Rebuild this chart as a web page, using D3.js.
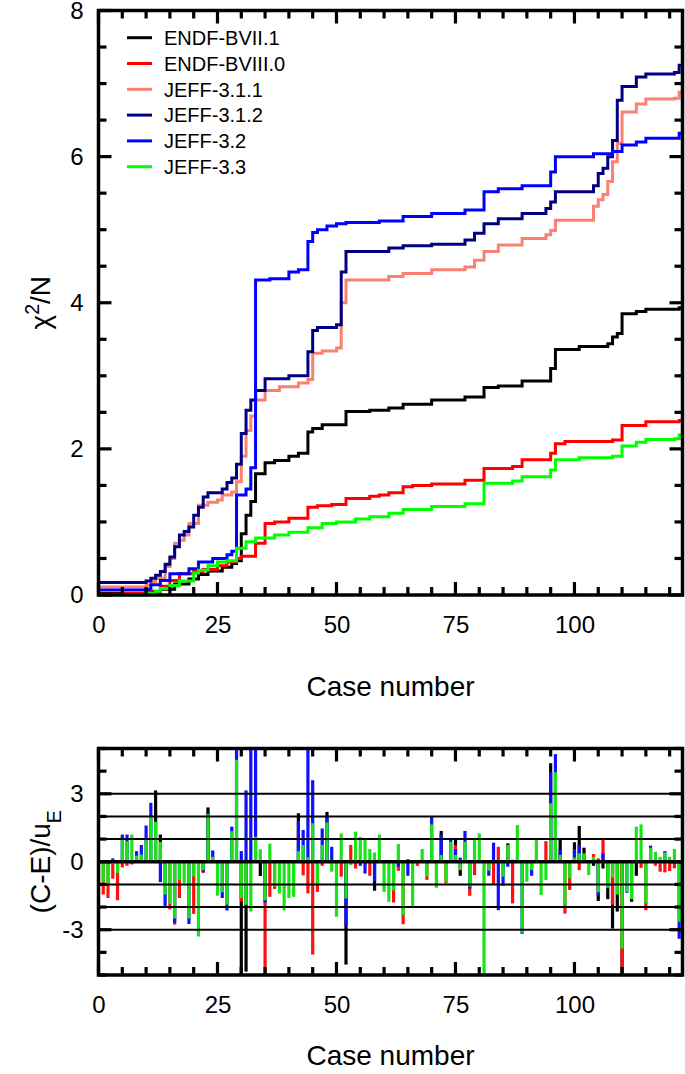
<!DOCTYPE html>
<html>
<head>
<meta charset="utf-8">
<script src="https://cdn.jsdelivr.net/npm/d3@7"></script>
<style>
  body { margin: 0; background: #fff; }
  svg text { font-family: "Liberation Sans", Arial, Helvetica, sans-serif; fill: #000; }
</style>
</head>
<body>
<svg id="chart" width="685" height="1074"></svg>
<script>
// ############################################################################
// Chi-square / deviation chart for six nuclear data libraries
// - top: cumulative chi^2/N as step curves
// - bottom: (C-E)/u_E per case, overlapping bars
// ############################################################################

// ============================================================================
// Data
// ============================================================================

const libraries = ['ENDF-BVII.1', 'ENDF-BVIII.0', 'JEFF-3.1.1', 'JEFF-3.1.2', 'JEFF-3.2', 'JEFF-3.3']

// Cumulative chi^2/N, knots [case number, value] (value holds until next knot)
const chiEndf71 = [[0,0.02],[10,0.04],[13,0.08],[16,0.15],[19,0.22],[21,0.28],[23,0.33],[26,0.38],[28,0.43],[29,0.47],
  [30,0.84],[31,1.09],[32,1.28],[33,1.66],[35,1.81],[37,1.84],[40,1.9],[42,1.94],[44,2.23],[45,2.28],[47,2.33],
  [52,2.51],[57,2.53],[61,2.56],[64,2.61],[70,2.67],[77,2.71],[81,2.84],[84,2.86],[89,2.93],[95,3.10],[96,3.36],
  [101,3.40],[107,3.44],[108,3.53],[109,3.58],[110,3.85],[113,3.88],[115,3.91],[122,3.93]]
const chiEndf80 = [[0,0.01],[5,0.02],[10,0.05],[13,0.12],[15,0.2],[17,0.29],[20,0.32],[22,0.35],[25,0.4],[27,0.45],
  [29,0.5],[30,0.53],[33,0.71],[35,0.98],[37,1.0],[40,1.05],[44,1.2],[46,1.22],[49,1.24],[52,1.32],[57,1.35],
  [59,1.37],[61,1.4],[64,1.48],[66,1.5],[70,1.52],[77,1.57],[81,1.73],[87,1.76],[89,1.85],[95,1.94],[96,2.07],
  [98,2.1],[108,2.12],[110,2.32],[115,2.37],[122,2.39]]
const chiJeff311 = [[0,0.11],[10,0.13],[11,0.18],[12,0.23],[14,0.39],[15,0.5],[16,0.71],[17,0.75],[18,0.82],[19,0.98],
  [21,1.23],[23,1.27],[25,1.3],[26,1.37],[28,1.41],[29,1.55],[30,1.9],[31,2.25],[32,2.45],[33,2.67],[35,2.8],
  [38,2.85],[42,2.9],[44,2.95],[45,3.31],[47,3.34],[50,3.38],[51,4.0],[52,4.31],[61,4.36],[64,4.4],[70,4.45],
  [77,4.49],[79,4.58],[81,4.7],[84,4.79],[89,4.88],[94,4.93],[95,4.99],[96,5.13],[104,5.32],[105,5.41],[106,5.48],
  [107,5.66],[108,5.93],[109,6.18],[110,6.61],[113,6.72],[115,6.79],[121,6.8],[122,6.88]]
const chiJeff312 = [[0,0.17],[10,0.19],[11,0.23],[12,0.27],[13,0.32],[14,0.42],[15,0.52],[16,0.66],[17,0.82],[18,0.87],
  [19,0.93],[20,1.09],[21,1.2],[22,1.34],[23,1.40],[26,1.45],[27,1.54],[28,1.60],[29,1.79],[30,2.21],[31,2.53],
  [32,2.67],[33,2.8],[35,2.96],[40,3.0],[44,3.33],[45,3.62],[46,3.66],[50,3.70],[51,4.42],[52,4.70],[61,4.75],
  [64,4.78],[70,4.8],[77,4.86],[79,4.95],[81,5.08],[84,5.15],[89,5.22],[94,5.29],[95,5.38],[96,5.52],[104,5.6],
  [105,5.77],[106,5.84],[107,6.0],[108,6.22],[109,6.77],[110,6.96],[113,7.09],[115,7.13],[121,7.15],[122,7.25]]
const chiJeff32 = [[0,0.07],[10,0.08],[11,0.14],[13,0.2],[15,0.29],[19,0.36],[21,0.45],[24,0.5],[27,0.55],[28,0.6],
  [29,1.37],[31,1.45],[32,1.74],[33,4.31],[36,4.33],[40,4.42],[42,4.45],[44,4.84],[45,4.96],[46,5.0],[48,5.05],
  [50,5.08],[52,5.1],[59,5.12],[64,5.18],[70,5.22],[77,5.27],[81,5.52],[84,5.56],[89,5.6],[95,5.79],[96,6.0],
  [104,6.04],[108,6.07],[110,6.16],[113,6.2],[115,6.25],[122,6.32]]
const chiJeff33 = [[0,0.0],[10,0.02],[12,0.05],[13,0.09],[15,0.13],[17,0.19],[20,0.3],[21,0.34],[23,0.4],[25,0.45],
  [27,0.47],[29,0.64],[31,0.73],[33,0.78],[37,0.82],[40,0.86],[44,0.92],[47,0.98],[50,1.0],[54,1.04],[57,1.07],
  [61,1.12],[64,1.17],[70,1.21],[77,1.25],[81,1.53],[87,1.56],[89,1.62],[95,1.71],[96,1.85],[101,1.88],[108,1.9],
  [110,2.04],[113,2.09],[115,2.13],[121,2.14],[122,2.19]]

// (C-E)/u_E per case 1..122 (0 = hidden behind a later bar)
const cases = d3.range(1, 123)
const devEndf71 = [
  0,0,0,0,0,0,0,0,0,0,  0,3.15,1.2,0,0,0,0,0,0,0,  0,0,2.4,0,0,0,0,0,0,-6,
  -4.85,0,0,-0.63,0,0,0,0,0,0,  0,2.14,0,0,0,0,0,2.2,0,0,  0,-4.54,0,0,0,0,0,-1.28,0,0,
  0,0,0,0,0,0,0,0,0,0,  0,1.36,0,0,1.03,-0.62,0,0,0,0,  0,0,0,0,0,0.81,0,0,0,0,
  0,0,0,0,4.35,0,0.96,0,0,0.86,  1.58,0.62,0,-0.18,-1.73,-0.3,-1.65,-2.95,-2.2,-6,
  0,-1.77,-0.62,0,0,0,0,0,0,0,  0,0]
const devEndf80 = [
  -1.45,-1.6,-0.75,-1.7,-0.25,-0.18,-0.12,0,0,0,  0,0,0,0,-2.1,-2.78,-1.6,0,0,-2.3,
  0,-0.5,0,0,0,0,0,0,0,-1.75,  0,0,0,0,-5.5,-1.55,-1.2,0,0,0,
  0,0,-0.6,-1.4,-4.1,-1.33,-0.18,0,0,0,  -0.66,0,0.74,-0.3,0,0,-0.62,0,0,0,
  0,-1.8,-0.4,-2.76,0.12,0,-0.18,0,-0.8,0,  0,0,-0.95,0,0.74,0,0,-1.5,-0.59,0,
  0,0,-1.0,0.66,0,0,-1.84,0,0,0,  0,0,0,0.91,0,0,0,-2.29,-1.25,0,
  -0.37,0,0,0.34,0.15,1.03,0,-1.9,0,-4.7,  0,0,0,-0.27,-2.14,0,-0.18,-0.44,-0.47,-0.41,
  -0.29,0]
const devJeff32 = [
  0,0,0.15,0,1.2,1.2,0,0.47,0.74,1.6,  2.6,0,-0.9,-2.0,0,-2.7,0,0,-2.75,0,
  0,-0.45,2.15,0.5,0,-1.6,-2.15,1.55,6,0.47,  3.15,6,6,0,-1.8,0,0,0,0,0,
  0,1.8,1.4,6,3.6,0,1.47,2.0,0.66,0,  0,-2.8,0,0,-0.18,-0.52,0,-0.86,0,0,
  0,0,-0.22,0,-0.62,0,0,0,0,2.0,  0,1.2,0,1.03,0.56,0.18,1.36,-1.18,0,0,
  0,-0.62,0.84,-2.14,-1.06,-0.22,0,0,-3.18,0,  -0.62,0,0,0,3.95,4.75,0.52,0,0,0.56,
  0.74,0,0,0,-1.5,0.37,0,0,0,0,  -1.37,0,0,0,0,0.71,0,0,0.47,0,
  0,-3.4]
const devJeff33 = [
  -0.9,-1.0,-0.1,-0.5,1.0,0.9,1.2,0.27,0.32,0.95,  2.0,1.77,0.88,-1.45,-1.85,-2.5,-0.8,-0.95,-2.5,-0.65,
  -3.3,-0.37,2.1,0.22,-1.5,-1.35,-1.9,1.35,4.5,-1.6,  -1.9,-2.2,1.1,0.55,-1.7,0.8,-1.1,-1.4,-2.15,-1.6,
  -1.55,0.47,0.74,0.2,1.7,-1.0,0.74,1.74,-0.44,-2.43,  1.25,-1.62,-0.15,1.33,1.1,0.96,0.56,0.41,1.2,-1.33,
  -1.77,-1.27,0.78,-2.36,0,-1.96,0,0.56,-0.66,1.65,  -1.15,0.3,-0.9,0.88,0.3,-0.37,0.88,-1.1,1.03,1.25,
  -6,-0.4,0,0,-0.66,0.74,0.1,1.62,-3.13,-0.88,  -0.37,0.96,-1.47,-0.81,2.58,3.95,0.3,-1.92,-0.74,0.18,
  0.37,0.37,-0.59,0.22,-1.35,0,-1.15,-0.7,-1.45,-3.83,  -1.33,-1.65,1.55,1.65,-1.84,0.62,0.44,0.22,0.41,0.22,
  0.56,-2.65]

// Ticks
const caseTicks = [0, 25, 50, 75, 100]
const caseMinor = d3.range(0, 125, 5)
const chiTicks = [0, 2, 4, 6, 8]
const chiMinor = d3.range(0, 8.01, 0.5)
const devTicks = [-3, 0, 3]
const devMinor = d3.range(-5, 5.01, 1)
const devGridLevels = [-3, -2, -1, 1, 2, 3]

// ============================================================================
// Styles
// ============================================================================

const lineColors = ['#000000', '#ff0000', '#fa8072', '#000080', '#0000ff', '#00ff00']
const barColors  = ['#000000', '#ff1010', '#1010ff', '#18e418']   // draw order
const fontTick = 24, fontTitle = 28, fontLegend = 20

const svg = d3.select('#chart')

// Plot areas
const topArea = { left: 98.5, right: 682.5, top: 10.5, bottom: 595 }
const botArea = { left: 98.5, right: 682.5, top: 748.5, bottom: 975 }

const xMax = 122.7
const xTop = d3.scaleLinear().domain([0, xMax]).range([topArea.left, topArea.right])
const xBot = d3.scaleLinear().domain([0, xMax]).range([botArea.left, botArea.right])
const yChi = d3.scaleLinear().domain([0, 8]).range([topArea.bottom, topArea.top])
const yDev = d3.scaleLinear().domain([-5, 5]).range([botArea.bottom, botArea.top])

// ============================================================================
// Frame, labels (d3 axes) and inward ticks on all four sides
// ============================================================================

function drawFrame(area, x, y, xMajor, xMinor, yMajor, yMinor)
{
  const g = svg.append('g')

  // Labels from the axes (tick lines drawn separately below)
  g.append('g').attr('transform', `translate(0,${area.bottom})`)
    .call(d3.axisBottom(x).tickValues(xMajor).tickSize(0).tickPadding(21).tickFormat(d => String(d)))
    .call(s => s.select('.domain').remove())
    .call(s => s.selectAll('text').style('font-size', fontTick + 'px'))
  g.append('g').attr('transform', `translate(${area.left},0)`)
    .call(d3.axisLeft(y).tickValues(yMajor).tickSize(0).tickPadding(15).tickFormat(d => String(d)))
    .call(s => s.select('.domain').remove())
    .call(s => s.selectAll('text').style('font-size', fontTick + 'px'))

  const tickGroup = svg.append('g').attr('stroke', '#000').attr('stroke-width', 3.2)

  const xTicks = xMinor.map(v => [v, xMajor.includes(v) ? 13 : 8])
  const yTicks = yMinor.map(v => [v, yMajor.includes(v) ? 13 : 8])

  tickGroup.selectAll('.tb').data(xTicks).join('line').attr('class', 'tb')
    .attr('x1', d => x(d[0])).attr('x2', d => x(d[0]))
    .attr('y1', area.bottom).attr('y2', d => area.bottom - d[1])
  tickGroup.selectAll('.tt').data(xTicks).join('line').attr('class', 'tt')
    .attr('x1', d => x(d[0])).attr('x2', d => x(d[0]))
    .attr('y1', area.top).attr('y2', d => area.top + d[1])
  tickGroup.selectAll('.tl').data(yTicks).join('line').attr('class', 'tl')
    .attr('y1', d => y(d[0])).attr('y2', d => y(d[0]))
    .attr('x1', area.left).attr('x2', d => area.left + d[1])
  tickGroup.selectAll('.tr').data(yTicks).join('line').attr('class', 'tr')
    .attr('y1', d => y(d[0])).attr('y2', d => y(d[0]))
    .attr('x1', area.right).attr('x2', d => area.right - d[1])

  svg.append('rect')
    .attr('x', area.left).attr('y', area.top)
    .attr('width', area.right - area.left)
    .attr('height', area.bottom - area.top)
    .attr('fill', 'none').attr('stroke', '#000').attr('stroke-width', 3.5)
}

// ============================================================================
// Top chart: cumulative chi^2/N
// ============================================================================

const chiSeries = [chiEndf71, chiEndf80, chiJeff311, chiJeff312, chiJeff32, chiJeff33]

const stepLine = d3.line()
  .x(d => xTop(d[0]))
  .y(d => yChi(d[1]))
  .curve(d3.curveStepAfter)

chiSeries.forEach((knots, i) =>
{
  // hold last value up to the right edge of the frame
  const pts = knots.concat([[xMax, knots[knots.length - 1][1]]])
  svg.append('path')
    .attr('d', stepLine(pts))
    .attr('fill', 'none')
    .attr('stroke', lineColors[i])
    .attr('stroke-width', 3)
    .attr('stroke-linejoin', 'miter')
})

drawFrame(topArea, xTop, yChi, caseTicks, caseMinor, chiTicks, chiMinor)

// Legend
const legend = svg.append('g')
libraries.forEach((name, i) =>
{
  const ly = 37.7 + i * 25.8
  legend.append('line')
    .attr('x1', 127).attr('x2', 152).attr('y1', ly).attr('y2', ly)
    .attr('stroke', lineColors[i]).attr('stroke-width', 3)
  legend.append('text')
    .attr('x', 164).attr('y', ly).attr('dy', '0.36em')
    .style('font-size', fontLegend + 'px')
    .text(name)
})

// Axis titles
svg.append('text')
  .attr('x', (topArea.left + topArea.right) / 2).attr('y', 686).attr('dy', '0.36em')
  .attr('text-anchor', 'middle')
  .style('font-size', fontTitle + 'px')
  .text('Case number')

const chiTitle = svg.append('text')
  .attr('transform', `translate(40,${(topArea.top + topArea.bottom) / 2}) rotate(-90)`)
  .attr('text-anchor', 'middle').attr('dy', '0.36em')
  .style('font-size', fontTitle + 'px')
chiTitle.append('tspan').text('χ')
chiTitle.append('tspan').attr('baseline-shift', 'super').style('font-size', '70%').text('2')
chiTitle.append('tspan').text('/N')

// ============================================================================
// Bottom chart: (C-E)/u_E bars
// ============================================================================

svg.append('defs').append('clipPath').attr('id', 'clip-dev')
  .append('rect')
  .attr('x', botArea.left).attr('y', botArea.top)
  .attr('width', botArea.right - botArea.left).attr('height', botArea.bottom - botArea.top)

const barW = 3.2
const devSeries = [devEndf71, devEndf80, devJeff32, devJeff33]
const bars = svg.append('g').attr('clip-path', 'url(#clip-dev)')

devSeries.forEach((vals, i) =>
{
  bars.append('g')
    .selectAll('rect')
    .data(cases.map((c, j) => [c, vals[j]]).filter(d => d[1] != 0))
    .join('rect')
    .attr('x', d => xBot(d[0]) - barW / 2)
    .attr('y', d => Math.min(yDev(d[1]), yDev(0)))
    .attr('width', barW)
    .attr('height', d => Math.abs(yDev(d[1]) - yDev(0)))
    .attr('fill', barColors[i])
})

// Reference lines
svg.append('g')
  .selectAll('line')
  .data(devGridLevels)
  .join('line')
  .attr('x1', botArea.left).attr('x2', botArea.right)
  .attr('y1', d => yDev(d)).attr('y2', d => yDev(d))
  .attr('stroke', '#000').attr('stroke-width', 2)

svg.append('line')
  .attr('x1', botArea.left).attr('x2', botArea.right)
  .attr('y1', yDev(0)).attr('y2', yDev(0))
  .attr('stroke', '#000').attr('stroke-width', 3.5)

drawFrame(botArea, xBot, yDev, caseTicks, caseMinor, devTicks, devMinor)

svg.append('text')
  .attr('x', (botArea.left + botArea.right) / 2).attr('y', 1055).attr('dy', '0.36em')
  .attr('text-anchor', 'middle')
  .style('font-size', fontTitle + 'px')
  .text('Case number')

const devTitle = svg.append('text')
  .attr('transform', `translate(40,${yDev(0)}) rotate(-90)`)
  .attr('text-anchor', 'middle').attr('dy', '0.36em')
  .style('font-size', fontTitle + 'px')
devTitle.append('tspan').text('(C-E)/u')
devTitle.append('tspan').attr('baseline-shift', 'sub').style('font-size', '70%').text('E')
</script>
</body>
</html>
